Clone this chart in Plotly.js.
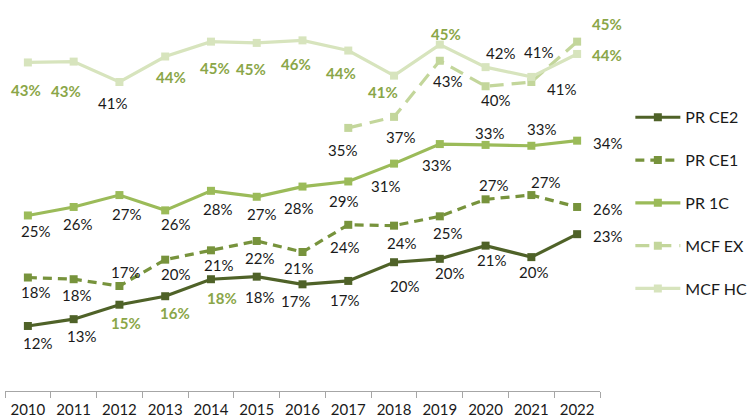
<!DOCTYPE html>
<html>
<head>
<meta charset="utf-8">
<script src="https://cdn.plot.ly/plotly-3.0.1.min.js"></script>
<style>html,body{margin:0;padding:0;background:#fff;}#chart{width:749px;height:419px;}</style>
</head>
<body>
<div id="chart"></div>
<script>
// ---- data ----
const years = ['2010','2011','2012','2013','2014','2015','2016','2017','2018','2019','2020','2021','2022'];
const prCE2 = [12.0, 12.8, 14.5, 15.5, 17.5, 17.8, 16.9, 17.3, 19.5, 19.9, 21.45, 20.1, 22.8];
const prCE1 = [17.7, 17.5, 16.7, 19.8, 20.9, 22.0, 20.7, 23.9, 23.8, 24.9, 26.9, 27.4, 26.0];
const pr1C  = [25.0, 26.0, 27.4, 25.6, 27.9, 27.2, 28.4, 29.0, 31.1, 33.4, 33.3, 33.2, 33.8];
const mcfEX = [null, null, null, null, null, null, null, 35.3, 36.6, 43.2, 40.2, 40.7, 45.45];
const mcfHC = [43.0, 43.1, 40.7, 43.7, 45.45, 45.3, 45.6, 44.4, 41.45, 45.1, 42.45, 41.3, 44.0];

const ce2Labels = ['12%','13%','15%','16%','18%','18%','17%','17%','20%','20%','21%','20%','23%'];
const ce1Labels = ['18%','18%','17%','20%','21%','22%','21%','24%','24%','25%','27%','27%','26%'];
const c1Labels  = ['25%','26%','27%','26%','28%','27%','28%','29%','31%','33%','33%','33%','34%'];
const exLabels  = [null,null,null,null,null,null,null,'35%','37%','43%','40%','41%','45%'];
const hcLabels  = ['43%','43%','41%','44%','45%','45%','46%','44%','41%','45%','42%','41%','44%'];

// ---- label placement (pixel offsets: right, down) and emphasis ----
const ce2Off = [[10,17],[8,17],[7,18],[10,17],[11,19],[3,20],[-7,17],[-4,19],[10,24],[10,14],[6,14],[2,15],[30,2]];
const ce1Off = [[8,14],[3,16],[6,-14],[10,14],[8,15],[3,17],[-4,16],[-4,22],[7,17],[8,17],[8,-14],[14,-13],[30,2]];
const c1Off  = [[8,16],[4,17],[7,19],[10,14],[7,18],[5,17],[-4,21],[-5,20],[-9,22],[-3,21],[4,-12],[10,-17],[30,2]];
const exOff  = [null,null,null,null,null,null,null,[-6,22],[6,20],[8,20],[10,14],[30,7],[30,-18]];
const hcOff  = [[-2,28],[-8,29],[-7,21],[6,20],[4,26],[-6,26],[-7,24],[-7,22],[-11,16],[6,-11],[15,-14],[7,-25],[30,1]];
const ce2Green = [2,3,4];
const ce1Green = [];
const c1Green = [];
const exGreen = [12];
const hcGreen = [0,1,3,4,5,6,7,8,9,12];

const FONT = 'Lato, "Liberation Sans", Arial, sans-serif';
const BLACK = '#1a1a1a';
const GREENLBL = '#8aa648';

const series = [
  {name:'PR CE2', y:prCE2, color:'#4f6228', dash:'solid', labels:ce2Labels, off:ce2Off, green:ce2Green},
  {name:'PR CE1', y:prCE1, color:'#77933c', dash:'9px,6px', labels:ce1Labels, off:ce1Off, green:ce1Green},
  {name:'PR 1C',  y:pr1C,  color:'#9bbb59', dash:'solid', labels:c1Labels, off:c1Off, green:c1Green},
  {name:'MCF EX', y:mcfEX, color:'#c3d69b', dash:'14px,8px', labels:exLabels, off:exOff, green:exGreen},
  {name:'MCF HC', y:mcfHC, color:'#d7e4bd', dash:'solid', labels:hcLabels, off:hcOff, green:hcGreen}
];

const traces = series.map((s, i) => ({
  type:'scatter', mode:'lines+markers', name:s.name, x:years, y:s.y,
  legendgroup:'g'+i,
  line:{color:s.color, width:3.2, dash:s.dash},
  marker:{symbol:'square', size:8, color:s.color},
  connectgaps:false, cliponaxis:false
}));

const annotations = [];
series.forEach(s => {
  s.y.forEach((v, j) => {
    if (v === null || !s.labels[j]) return;
    const g = s.green.indexOf(j) >= 0;
    annotations.push({
      x: j, y: v, xref:'x', yref:'y', text: g ? '<b>'+s.labels[j]+'</b>' : s.labels[j],
      showarrow:false, xanchor:'center', yanchor:'middle',
      xshift: s.off[j][0], yshift: -s.off[j][1],
      font:{family:FONT, size:15, color: g ? GREENLBL : BLACK}
    });
  });
});

const layout = {
  width:749, height:419,
  margin:{l:5, r:149, t:5, b:28, pad:0, autoexpand:false},
  paper_bgcolor:'#ffffff', plot_bgcolor:'#ffffff',
  font:{family:FONT, size:15, color:BLACK},
  showlegend:true,
  legend:{x:1.051, xanchor:'left', y:0.753, yanchor:'top', traceorder:'grouped', tracegroupgap:19,
          itemwidth:45, font:{family:FONT, size:16, color:BLACK}, bgcolor:'rgba(0,0,0,0)'},
  xaxis:{type:'category', range:[-0.5, 12.5], tickson:'boundaries', ticks:'outside', ticklen:6,
         tickcolor:'#a6a6a6', showline:true, linecolor:'#a6a6a6', linewidth:1, showgrid:false,
         zeroline:false, ticklabelstandoff:5, tickfont:{family:FONT, size:15, color:BLACK}, fixedrange:true},
  yaxis:{range:[4.35, 49.76], showticklabels:false, ticks:'', showline:false, showgrid:false, zeroline:false, fixedrange:true},
  annotations: annotations
};

Plotly.newPlot('chart', traces, layout, {displayModeBar:false});
</script>
</body>
</html>
